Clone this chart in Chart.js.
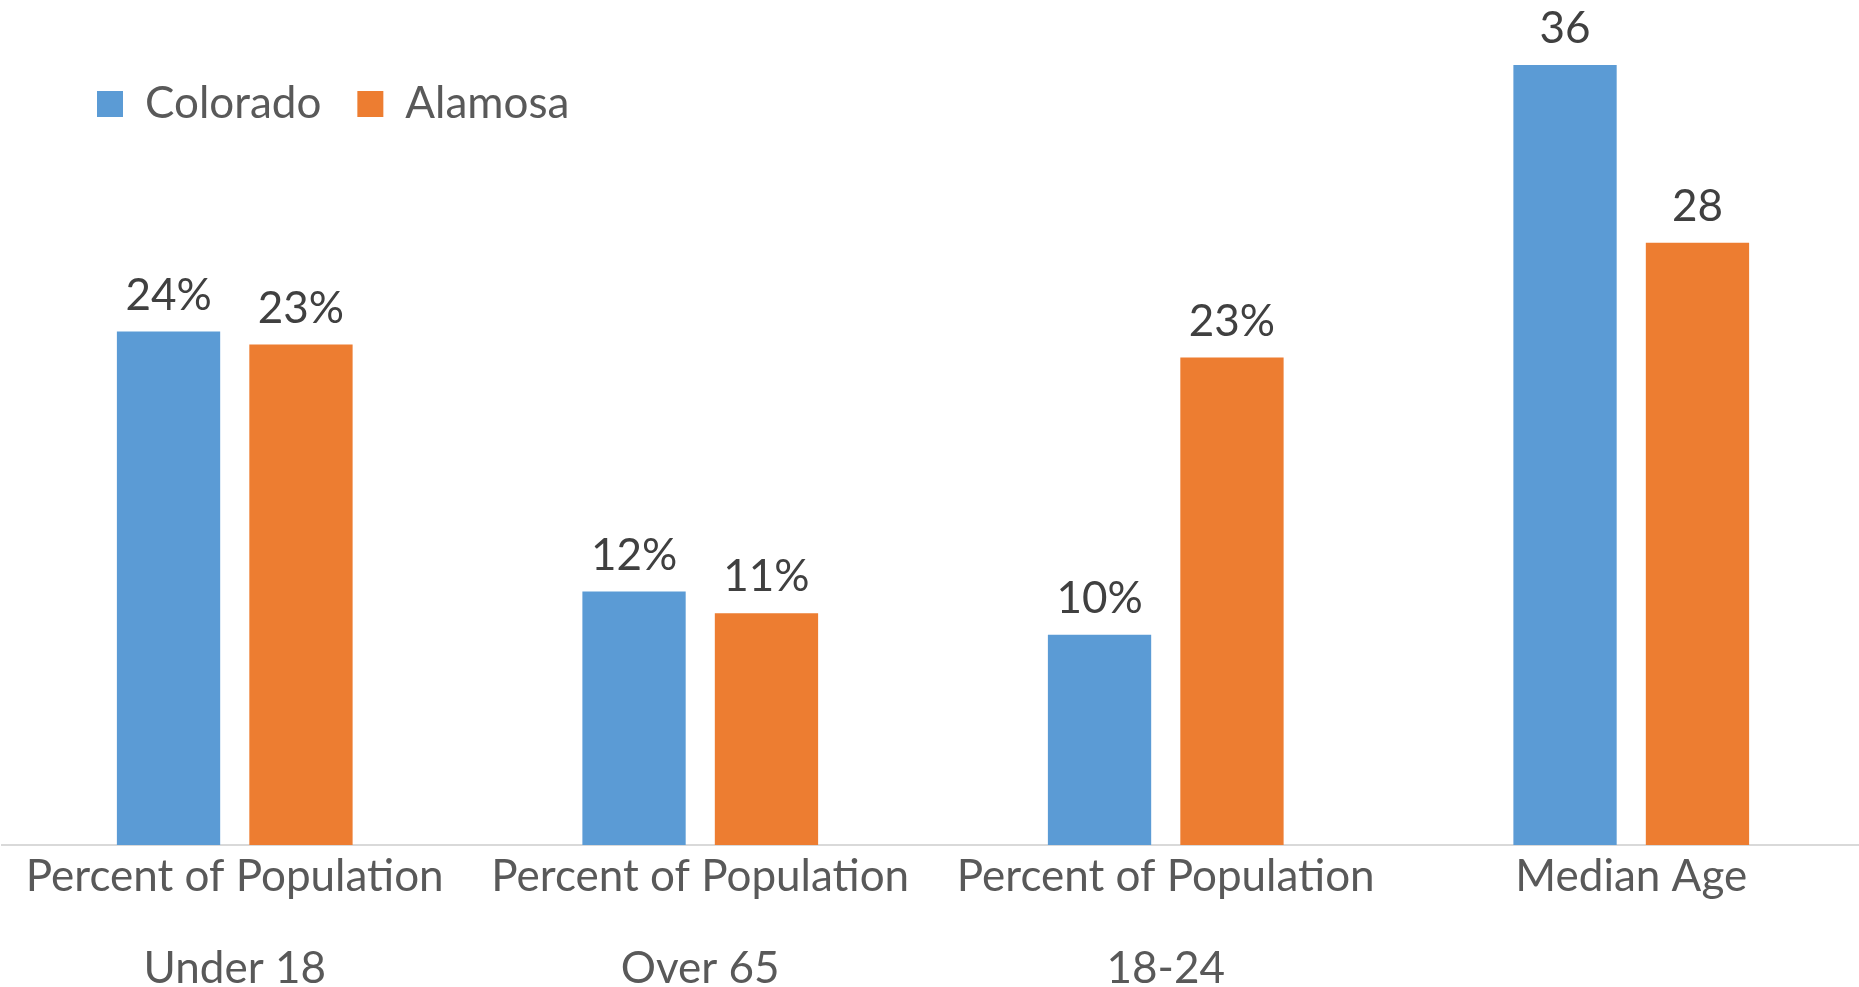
<!DOCTYPE html>
<html>
<head>
<meta charset="utf-8">
<script src="https://cdn.jsdelivr.net/npm/chart.js@4"></script>
<style>
  html, body { margin: 0; padding: 0; background: #fff; overflow: hidden; }
  #wrap { width: 1864px; height: 987px; }
</style>
</head>
<body>
<div id="wrap"><canvas id="chart"></canvas></div>
<script>
// datos
const categorias = [
  ['Percent of Population', 'Under 18'],
  ['Percent of Population', 'Over 65'],
  ['Percent of Population', '18-24'],
  'Median Age'
];
const colorado = [23.7, 11.7, 9.7, 36.0];
const alamosa = [23.1, 10.7, 22.5, 27.8];
const etiquetasColorado = ['24%', '12%', '10%', '36'];
const etiquetasAlamosa = ['23%', '11%', '23%', '28'];

const fuente = 'Lato';

// dibuja el valor encima de cada barra
const valorBarras = {
  id: 'valorBarras',
  afterDatasetsDraw(chart) {
    const ctx = chart.ctx;
    ctx.save();
    ctx.font = '44px ' + fuente;
    ctx.fillStyle = '#404040';
    ctx.textAlign = 'center';
    ctx.textBaseline = 'alphabetic';
    chart.data.datasets.forEach((ds, i) => {
      chart.getDatasetMeta(i).data.forEach((bar, j) => {
        ctx.fillText(ds.textos[j], bar.x, bar.y - 22);
      });
    });
    ctx.restore();
  }
};

// la leyenda va encima de las barras, arriba a la izquierda
const moverLeyenda = {
  id: 'moverLeyenda',
  afterLayout(chart) {
    const l = chart.legend;
    const ancho = l.right - l.left;
    l.left = 61;
    l.right = l.left + ancho;
    l.top = 46;
    l.bottom = l.top + 130;
  }
};

const ctx = document.getElementById('chart').getContext('2d');
new Chart(ctx, {
  type: 'bar',
  data: {
    labels: categorias,
    datasets: [{
      label: 'Colorado',
      data: colorado,
      textos: etiquetasColorado,
      backgroundColor: '#5b9bd5',
      categoryPercentage: 0.569,
      barPercentage: 0.78
    }, {
      label: 'Alamosa',
      data: alamosa,
      textos: etiquetasAlamosa,
      backgroundColor: '#ed7d31',
      categoryPercentage: 0.569,
      barPercentage: 0.78
    }]
  },
  options: {
    responsive: true,
    maintainAspectRatio: false,
    animation: false,
    layout: { padding: { left: 2, right: 0, top: 0, bottom: 0 } },
    plugins: {
      legend: {
        position: 'top',
        align: 'start',
        maxHeight: 0.001,
        labels: {
          boxWidth: 26,
          boxHeight: 26,
          padding: 36,
          color: '#595959',
          font: { family: fuente, size: 44 }
        }
      },
      tooltip: { enabled: false }
    },
    scales: {
      x: {
        grid: { display: false, drawTicks: false },
        border: { display: true, color: '#d9d9d9', width: 2 },
        ticks: {
          color: '#595959',
          padding: -14,
          font: { family: fuente, size: 44, lineHeight: 92 / 44 }
        },
        afterFit: function (s) { s.height = 142; }
      },
      y: {
        display: false,
        min: 0,
        max: 39
      }
    }
  },
  plugins: [valorBarras, moverLeyenda]
});
</script>
</body>
</html>
